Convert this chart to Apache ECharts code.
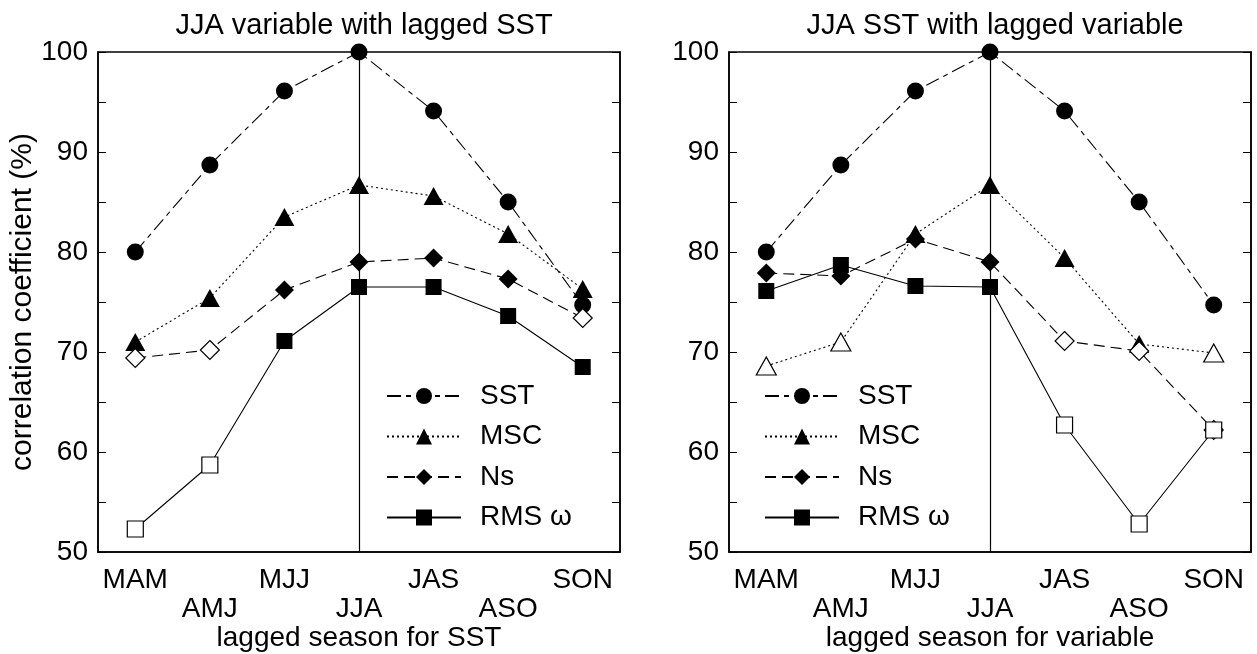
<!DOCTYPE html>
<html>
<head>
<meta charset="utf-8">
<script src="https://cdn.jsdelivr.net/npm/echarts@6/dist/echarts.min.js"></script>
<style>
  html, body { margin: 0; padding: 0; background: #fff; }
  #chart { width: 1257px; height: 654px; }
</style>
</head>
<body>
<div id="chart"></div>
<script>
// seasons on the x axis
var seasons = ['MAM', 'AMJ', 'MJJ', 'JJA', 'JAS', 'ASO', 'SON'];
var seriesNames = ['SST', 'MSC', 'Ns', 'RMS ω'];

// left panel: JJA variable with lagged SST
var sstLeft = [80.0, 88.7, 96.1, 100.0, 94.1, 85.0, 74.7];
var mscLeft = [71.0, 75.4, 83.5, 86.7, 85.6, 81.8, 76.3];
var nsLeft  = [69.4, 70.2, 76.2, 79.0, 79.4, 77.3, 73.4];
var rmsLeft = [52.3, 58.7, 71.1, 76.5, 76.5, 73.6, 68.5];

// right panel: JJA SST with lagged variable
var sstRight = [80.0, 88.7, 96.1, 100.0, 94.1, 85.0, 74.7];
var mscRight = [68.6, 71.0, 81.8, 86.7, 79.4, 70.8, 69.9];
var nsRight  = [77.9, 77.6, 81.3, 79.0, 71.1, 70.1, 62.2];
var rmsRight = [76.1, 78.7, 76.6, 76.5, 62.7, 52.8, 62.2];

// open (hollow) markers: 1 = open symbol
var sstLeftOpen  = [0, 0, 0, 0, 0, 0, 0];
var mscLeftOpen  = [0, 0, 0, 0, 0, 0, 0];
var nsLeftOpen   = [1, 1, 0, 0, 0, 0, 1];
var rmsLeftOpen  = [1, 1, 0, 0, 0, 0, 0];
var sstRightOpen = [0, 0, 0, 0, 0, 0, 0];
var mscRightOpen = [1, 1, 0, 0, 0, 0, 1];
var nsRightOpen  = [0, 0, 0, 0, 1, 1, 1];
var rmsRightOpen = [0, 0, 0, 0, 1, 1, 1];

var FONT = '"Liberation Sans", Arial, Helvetica, sans-serif';

var styles = {
	'SST':   { symbol: 'circle',   size: 17, dash: [14, 5, 5, 5] },
	'MSC':   { symbol: 'triangle', size: [20, 18], dash: [2, 3] },
	'Ns':    { symbol: 'diamond',  size: [19, 19], dash: [11, 6] },
	'RMS ω': { symbol: 'rect',     size: 16, dash: 'solid' }
};

var toData = function(values, open) {
	return values.map(function(v, i) {
		if (open[i]) {
			return { value: v, itemStyle: { color: '#fff', borderColor: '#000', borderWidth: 1.2 } };
		}
		return v;
	});
};

var makeSeries = function(name, values, open, axisIdx) {
	var s = styles[name];
	return {
		name: name,
		type: 'line',
		xAxisIndex: axisIdx,
		yAxisIndex: axisIdx * 2,
		data: toData(values, open),
		symbol: s.symbol,
		symbolSize: s.size,
		showAllSymbol: true,
		lineStyle: { color: '#000', width: 1.1, type: s.dash },
		itemStyle: { color: '#000' },
		z: 3
	};
};

var makeGrid = function(left) {
	return {
		left: left, width: 522, top: 52, height: 500,
		outerBoundsMode: 'none', containLabel: false,
		show: true, borderColor: '#000', borderWidth: 1.5, backgroundColor: 'transparent'
	};
};

var makeX = function(idx, name) {
	return {
		type: 'category', gridIndex: idx, data: seasons, boundaryGap: true,
		name: name, nameLocation: 'middle', nameGap: 72, nameMoveOverlap: false,
		nameTextStyle: { fontFamily: FONT, fontSize: 28, color: '#000' },
		axisLine: { lineStyle: { color: '#000', width: 1.5 } },
		axisTick: { inside: true, alignWithLabel: true, length: 12, interval: 0, lineStyle: { color: '#000' } },
		axisLabel: {
			interval: 0, margin: 14, color: '#000', fontFamily: FONT, fontSize: 28, lineHeight: 29,
			formatter: function(v, i) { return i % 2 ? '\n' + v : v; }
		},
		splitLine: { show: false }
	};
};

var makeY = function(idx, pos, showLabel, name) {
	return {
		type: 'value', gridIndex: idx, position: pos, min: 50, max: 100, interval: 5,
		name: name || '', nameLocation: 'middle', nameGap: 60, nameMoveOverlap: false,
		nameTextStyle: { fontFamily: FONT, fontSize: 30, color: '#000' },
		axisLine: { show: true, lineStyle: { color: '#000', width: 1.5 } },
		axisTick: { show: true, inside: true, length: 8, lineStyle: { color: '#000' } },
		axisLabel: {
			show: showLabel, margin: 10, color: '#000', fontFamily: FONT, fontSize: 28,
			formatter: function(v) { return v % 10 === 0 ? v : ''; }
		},
		splitLine: { show: false }
	};
};

var makeLegend = function(left) {
	return {
		orient: 'vertical', left: left, top: 377,
		data: seriesNames, itemWidth: 74, itemHeight: 20, itemGap: 12.5,
		textStyle: { fontFamily: FONT, fontSize: 28, lineHeight: 28, color: '#000', padding: [0, 0, 0, 14] },
		selectedMode: false
	};
};

var series = [];
series.push(makeSeries('SST', sstLeft, sstLeftOpen, 0));
series.push(makeSeries('MSC', mscLeft, mscLeftOpen, 0));
series.push(makeSeries('Ns', nsLeft, nsLeftOpen, 0));
series.push(makeSeries('RMS ω', rmsLeft, rmsLeftOpen, 0));
series.push(makeSeries('SST', sstRight, sstRightOpen, 1));
series.push(makeSeries('MSC', mscRight, mscRightOpen, 1));
series.push(makeSeries('Ns', nsRight, nsRightOpen, 1));
series.push(makeSeries('RMS ω', rmsRight, rmsRightOpen, 1));

// vertical line at JJA in both panels
[0, 4].forEach(function(k) {
	series[k].markLine = {
		silent: true, symbol: 'none', label: { show: false },
		lineStyle: { color: '#000', width: 1.2, type: 'solid' },
		data: [{ xAxis: 'JJA' }]
	};
});

var option = {
	animation: false,
	backgroundColor: '#fff',
	title: [
		{ text: 'JJA variable with lagged SST', left: 359, top: 6, textAlign: 'center',
		  textStyle: { fontFamily: FONT, fontSize: 29, fontWeight: 'normal', color: '#000' } },
		{ text: 'JJA SST with lagged variable', left: 990, top: 6, textAlign: 'center',
		  textStyle: { fontFamily: FONT, fontSize: 29, fontWeight: 'normal', color: '#000' } }
	],
	legend: [makeLegend(381), makeLegend(759)],
	grid: [makeGrid(98), makeGrid(729)],
	xAxis: [makeX(0, 'lagged season for SST'), makeX(1, 'lagged season for variable')],
	yAxis: [
		makeY(0, 'left', true, 'correlation coefficient (%)'),
		makeY(0, 'right', false),
		makeY(1, 'left', true),
		makeY(1, 'right', false)
	],
	series: series
};

var myChart = echarts.init(document.getElementById('chart'));
myChart.setOption(option);
</script>
</body>
</html>
